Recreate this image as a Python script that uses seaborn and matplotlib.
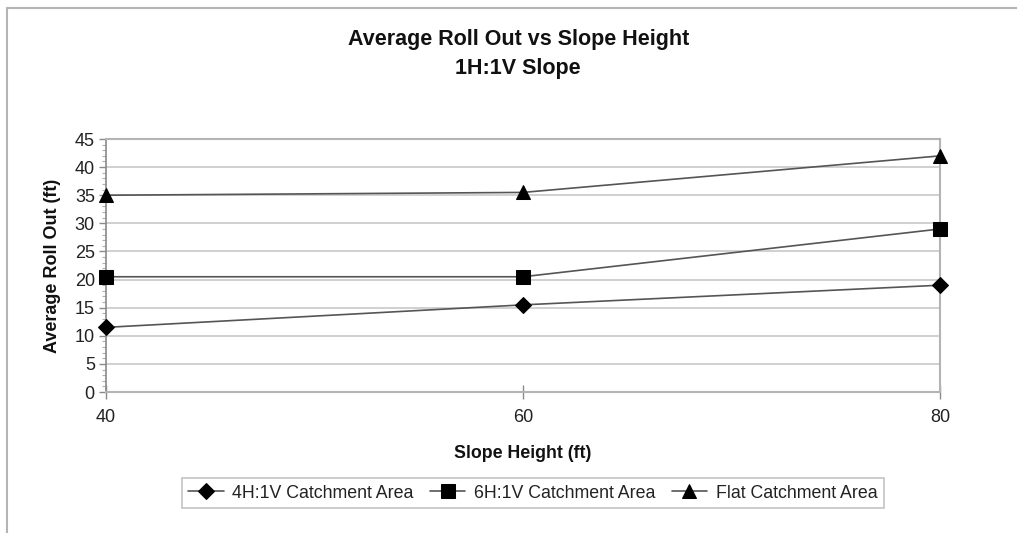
import matplotlib
matplotlib.use("Agg")
import matplotlib.pyplot as plt
from matplotlib.lines import Line2D
from matplotlib.ticker import MultipleLocator
import pandas as pd
import seaborn as sns

# Data
slope_heights = [40, 60, 80]
series_names = ["4H:1V Catchment Area", "6H:1V Catchment Area", "Flat Catchment Area"]
rollout_4h1v = [11.5, 15.5, 19.0]
rollout_6h1v = [20.5, 20.5, 29.0]
rollout_flat = [35.0, 35.5, 42.0]
y_ticks = [0, 5, 10, 15, 20, 25, 30, 35, 40, 45]

sns.set_theme(style="white")
plt.rcParams["font.family"] = ["Liberation Sans", "DejaVu Sans"]

rows = []
for name, vals in zip(series_names, [rollout_4h1v, rollout_6h1v, rollout_flat]):
    for h, v in zip(slope_heights, vals):
        rows.append({"Slope Height (ft)": h, "Average Roll Out (ft)": v, "Series": name})
df = pd.DataFrame(rows)

fig = plt.figure(figsize=(10.17, 5.33), dpi=100)
ax = fig.add_axes([0.1042, 0.2645, 0.8201, 0.4747])

marker_styles = {
    "4H:1V Catchment Area": ("D", 8.5),
    "6H:1V Catchment Area": ("s", 10),
    "Flat Catchment Area": ("^", 10.5),
}

for name in series_names:
    m, ms = marker_styles[name]
    sub = df[df["Series"] == name]
    sns.lineplot(data=sub, x="Slope Height (ft)", y="Average Roll Out (ft)", ax=ax,
                 color="#555555", linewidth=1.2, marker=m, markersize=ms,
                 markerfacecolor="black", markeredgecolor="black", label=name,
                 zorder=3, clip_on=False)

ax.set_xlim(40, 80)
ax.set_ylim(0, 45)
ax.set_xticks(slope_heights)
ax.set_yticks(y_ticks)
ax.yaxis.set_minor_locator(MultipleLocator(1))
ax.grid(axis="y", which="major", color="#c8c8c8", linewidth=1.2)
ax.grid(axis="x", visible=False)

for side in ["top", "right", "bottom"]:
    ax.spines[side].set_color("#b4b4b4")
    ax.spines[side].set_linewidth(1.5)
ax.spines["left"].set_color("#8a8a8a")
ax.spines["left"].set_linewidth(1.2)

ax.tick_params(axis="y", which="major", direction="out", length=5, width=1,
               color="#8a8a8a", labelsize=13, pad=3, left=True)
ax.tick_params(axis="y", which="minor", direction="out", length=3, width=0.8,
               color="#b0b0b0", left=True)
ax.tick_params(axis="x", which="major", direction="inout", length=10, width=1,
               color="#8a8a8a", labelsize=13, pad=7, bottom=True)
for lbl in ax.get_xticklabels() + ax.get_yticklabels():
    lbl.set_color("#222222")

ax.set_xlabel("Slope Height (ft)", fontsize=12.8, fontweight="bold", labelpad=14, color="#111111")
ax.set_ylabel("Average Roll Out (ft)", fontsize=13, fontweight="bold", labelpad=10, color="#111111")

fig.text(0.5095, 0.925, "Average Roll Out vs Slope Height", ha="center", va="center",
         fontsize=15.5, fontweight="bold", color="#111111")
fig.text(0.5095, 0.872, "1H:1V Slope", ha="center", va="center",
         fontsize=15.5, fontweight="bold", color="#111111")

leg = ax.legend(loc="center", bbox_to_anchor=(0.524, 0.0747), bbox_transform=fig.transFigure,
                ncol=3, frameon=True, fancybox=False, fontsize=12.8,
                handlelength=2.0, handletextpad=0.5, columnspacing=0.9,
                borderpad=0.35, edgecolor="#b4b4b4")
leg.get_frame().set_linewidth(1.2)
for t in leg.get_texts():
    t.set_color("#222222")

# Outer chart border
fig.add_artist(Line2D([7 / 1017, 1.0], [1 - 8 / 533, 1 - 8 / 533],
                      transform=fig.transFigure, color="#b4b4b4", linewidth=1.5))
fig.add_artist(Line2D([7 / 1017, 7 / 1017], [0.0, 1 - 8 / 533],
                      transform=fig.transFigure, color="#b4b4b4", linewidth=1.5))

fig.savefig("out.png", dpi=100)
